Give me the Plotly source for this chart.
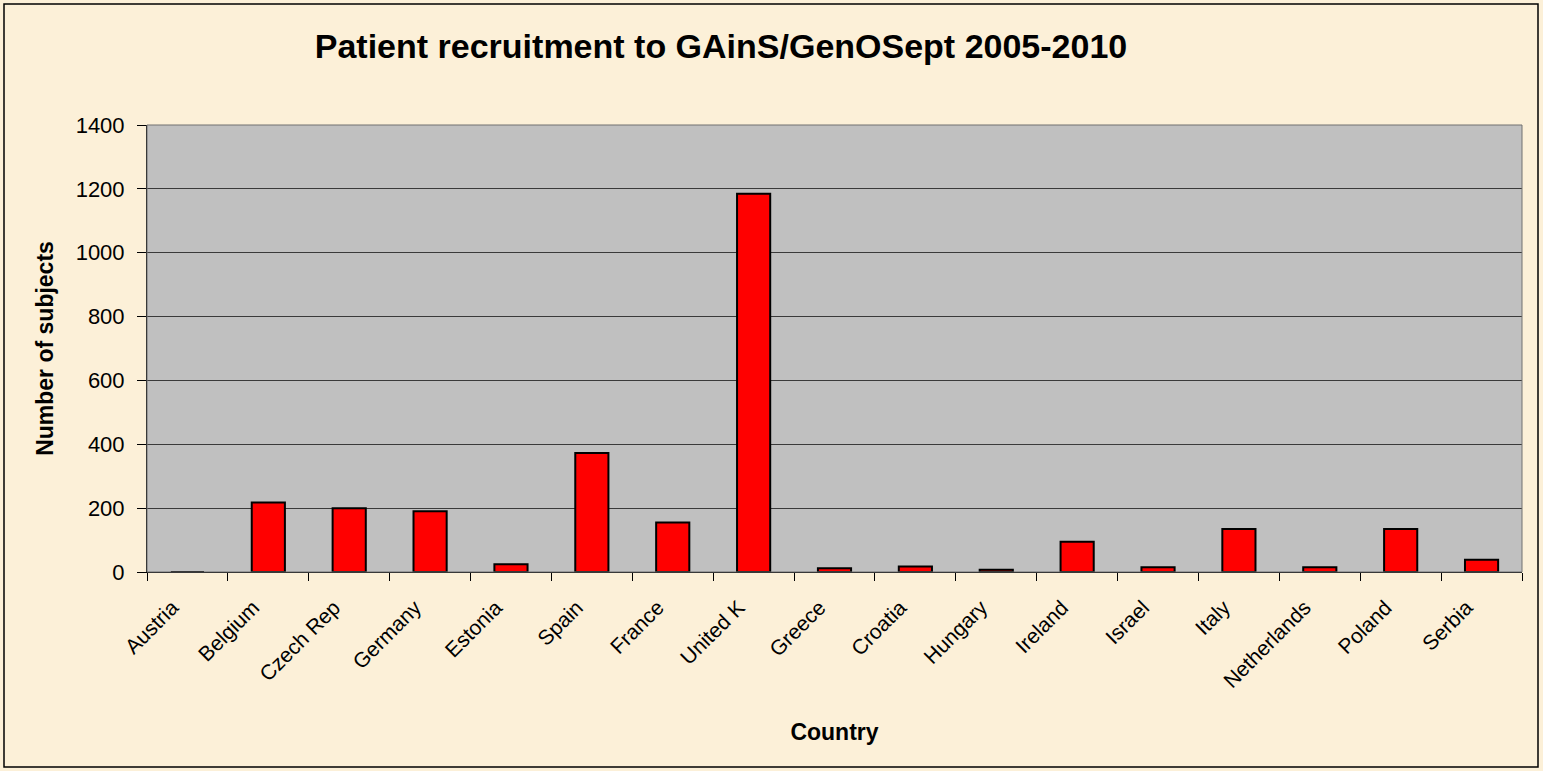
import plotly.graph_objects as go

countries = ["Austria", "Belgium", "Czech Rep", "Germany", "Estonia", "Spain", "France",
             "United K", "Greece", "Croatia", "Hungary", "Ireland", "Israel", "Italy",
             "Netherlands", "Poland", "Serbia"]
subjects = [0, 218, 200, 190, 24, 373, 155, 1185, 12, 17, 7, 95, 15, 135, 15, 135, 38]
y_ticks = [0, 200, 400, 600, 800, 1000, 1200, 1400]

W, H = 1543, 771
L, R, T, B = 147, 21, 125, 199
pw, ph = W - L - R, H - T - B

fig = go.Figure(go.Bar(
    x=countries, y=subjects, width=0.41,
    marker=dict(color="#FF0000", line=dict(color="#000000", width=2)),
))

fig.update_layout(
    width=W, height=H,
    margin=dict(l=L, r=R, t=T, b=B, autoexpand=False),
    paper_bgcolor="#FCF0D8",
    plot_bgcolor="#C0C0C0",
    font=dict(family="Arial, Liberation Sans", color="#000000", size=21),
    title=dict(text="<b>Patient recruitment to GAinS/GenOSept 2005-2010</b>",
               x=721 / W, xanchor="center", y=1 - 46 / H, yanchor="middle",
               font=dict(size=34)),
    showlegend=False,
    bargap=0.59,
    shapes=[dict(type="rect", xref="paper", yref="paper",
                 x0=(4 - L) / pw, x1=(W - 5 - L) / pw,
                 y0=(H - B - (H - 4)) / ph, y1=(H - B - 4) / ph,
                 line=dict(color="#000000", width=1.5), fillcolor="rgba(0,0,0,0)", layer="below")],
)

fig.update_xaxes(
    type="category", tickangle=-45, tickson="boundaries",
    ticks="outside", ticklen=8, tickcolor="#000000",
    showline=True, linecolor="#000000", linewidth=1, mirror=False,
    showgrid=False,
    title=dict(text="<b>Country</b>", standoff=32, font=dict(size=23)),
    tickfont=dict(size=21),
    ticklabelstandoff=14, ticklabelshift=-15,
    automargin=False,
)
fig.update_yaxes(
    range=[0, 1400], tickvals=y_ticks,
    ticks="outside", ticklen=9, tickcolor="#000000",
    showline=True, linecolor="#000000", linewidth=1,
    showgrid=True, gridcolor="#3A3A3A", gridwidth=1,
    zeroline=False,
    title=dict(text="<b>Number of subjects</b>", standoff=15, font=dict(size=23)),
    tickfont=dict(size=22),
    ticklabelstandoff=8,
    automargin=False,
)
# plot-area border (right/top)
fig.add_shape(type="rect", xref="paper", yref="paper", x0=0, x1=1, y0=0, y1=1,
              line=dict(color="#707070", width=1), fillcolor="rgba(0,0,0,0)")

fig.write_html("out.html", config={"displayModeBar": False},
               post_script="document.body.style.margin='0';document.body.style.padding='0';")
